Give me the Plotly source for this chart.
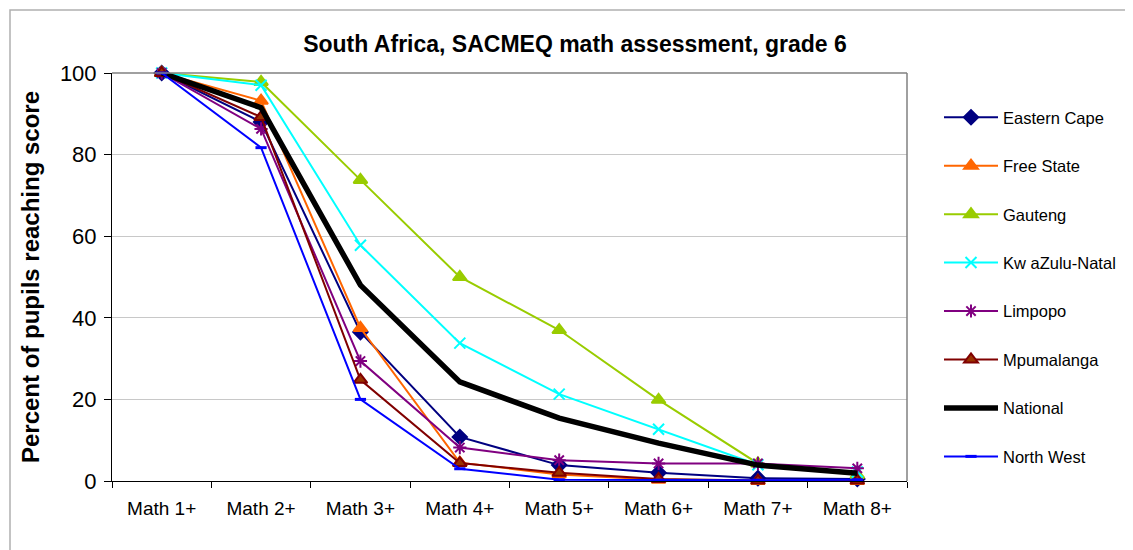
import plotly.graph_objects as go

categories = ["Math 1+", "Math 2+", "Math 3+", "Math 4+", "Math 5+", "Math 6+", "Math 7+", "Math 8+"]

eastern_cape = [100, 88.0, 36.5, 10.8, 3.9, 2.0, 0.7, 0.5]
free_state = [100, 93.2, 37.5, 4.5, 1.6, 0.3, 0.0, 0.0]
gauteng = [100, 97.8, 73.8, 50.0, 37.0, 19.9, 4.3, 1.5]
kwazulu_natal = [100, 97.0, 57.8, 33.8, 21.3, 12.7, 4.0, 2.2]
limpopo = [100, 86.3, 29.4, 8.2, 5.1, 4.3, 4.3, 3.1]
mpumalanga = [100, 89.2, 24.8, 4.4, 2.0, 0.5, 0.1, 0.1]
national = [100, 91.5, 48.0, 24.3, 15.4, 9.3, 3.9, 1.9]
north_west = [100, 81.7, 20.0, 3.0, 0.3, 0.2, 0.2, 0.3]

# name, values, line colour, marker colour, marker edge, symbol, size, line width
series = [
    ("Eastern Cape", eastern_cape, "#000080", "#000080", "#000080", "diamond", 11, 2),
    ("Free State", free_state, "#FF6600", "#FF6600", "#FF6600", "triangle-up", 12, 2),
    ("Gauteng", gauteng, "#99CC00", "#99CC00", "#99CC00", "triangle-up", 12, 2),
    ("Kw aZulu-Natal", kwazulu_natal, "#00FFFF", "#00FFFF", "#00FFFF", "x-thin", 11, 2),
    ("Limpopo", limpopo, "#800080", "#800080", "#800080", "asterisk", 11, 2),
    ("Mpumalanga", mpumalanga, "#800000", "#993300", "#800000", "triangle-up", 12, 2),
    ("National", national, "#000000", None, None, None, 0, 5.5),
    ("North West", north_west, "#0000FF", "#0000FF", "#0000FF", "line-ew", 8, 2),
]

fig = go.Figure()
for i, (name, vals, color, mcolor, medge, sym, size, width) in enumerate(series):
    if sym is None:
        fig.add_trace(go.Scatter(x=categories, y=vals, name=name, mode="lines",
                                 line=dict(color=color, width=width), cliponaxis=False,
                                 legendgroup=str(i)))
    else:
        fig.add_trace(go.Scatter(x=categories, y=vals, name=name, mode="lines+markers",
                                 line=dict(color=color, width=width),
                                 marker=dict(symbol=sym, size=size, color=mcolor,
                                             line=dict(color=medge,
                                                       width=3 if sym == "line-ew" else 2)),
                                 cliponaxis=False, legendgroup=str(i)))

OFF = 8  # page body margin
# target screen coordinates of plot area
SL, SR, ST, SB = 112, 907, 73, 481
W, H = 1133 - OFF, 550 - OFF
L, R, T, B = SL - OFF, SR - OFF, ST - OFF, SB - OFF

def px(xs):
    return (xs - OFF - L) / (R - L)

def py(ys):
    return (B - (ys - OFF)) / (B - T)

fig.update_layout(
    width=W, height=H,
    margin=dict(l=L, r=W - R, t=T, b=H - B),
    paper_bgcolor="white", plot_bgcolor="white",
    font=dict(family="Liberation Sans, Arial, sans-serif", color="black"),
    title=dict(text="<b>South Africa, SACMEQ math assessment, grade 6</b>",
               x=(575 - OFF) / W, xanchor="center", y=1 - (44 - OFF) / H, yanchor="middle",
               font=dict(size=23)),
    showlegend=True,
    legend=dict(x=px(939), xanchor="left", y=py(100), yanchor="top",
                font=dict(size=16.5), tracegroupgap=24, itemwidth=54,
                bgcolor="rgba(0,0,0,0)"),
    xaxis=dict(type="category", showgrid=False, showline=True, linecolor="black",
               linewidth=1, ticks="outside", tickson="boundaries", ticklen=6,
               tickcolor="black", tickfont=dict(size=19), zeroline=False,
               ticklabelstandoff=10, range=[-0.5, 7.5]),
    yaxis=dict(range=[0, 100], dtick=20, showgrid=True, gridcolor="#c8c8c8",
               showline=True, linecolor="black", linewidth=1, ticks="outside",
               ticklen=7, tickcolor="black", tickfont=dict(size=22), zeroline=False,
               ticklabelstandoff=3,
               title=dict(text="<b>Percent of pupils reaching score</b>",
                          font=dict(size=24), standoff=13)),
)

# plot-area border (top and right) and outer chart border
fig.add_shape(type="line", xref="paper", yref="paper", x0=0, x1=1, y0=1, y1=1,
              line=dict(color="#808080", width=1.5))
fig.add_shape(type="line", xref="paper", yref="paper", x0=1, x1=1, y0=0, y1=1,
              line=dict(color="#808080", width=1.5))
fig.add_shape(type="rect", xref="paper", yref="paper",
              x0=px(10), x1=px(1160), y0=py(580), y1=py(10),
              line=dict(color="#b0b0b0", width=1.5), layer="below")

fig.write_html("out.html")
